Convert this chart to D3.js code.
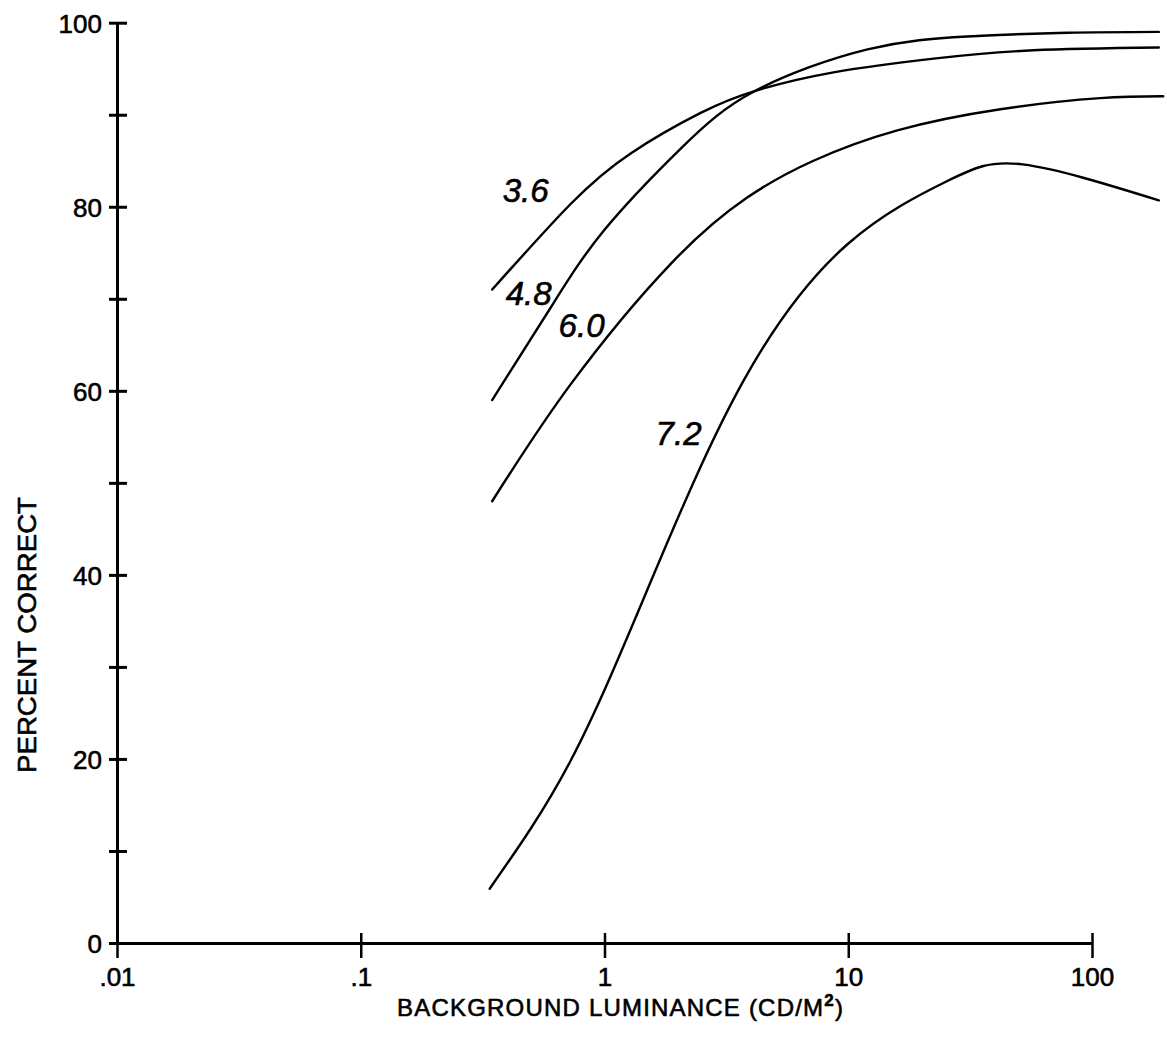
<!DOCTYPE html>
<html>
<head>
<meta charset="utf-8">
<script src="https://cdn.jsdelivr.net/npm/d3@7"></script>
<style>
  html, body { margin: 0; padding: 0; background: #fff; }
  svg { display: block; }
  text { font-family: "Liberation Sans", Arial, sans-serif; fill: #000; stroke: #000; stroke-width: 0.6px; }
</style>
</head>
<body>
<svg id="chart" width="1167" height="1039"></svg>
<script>
// Percent correct vs. background luminance, one curve per condition.
const seriesNames = ["3.6", "4.8", "6.0", "7.2"];

// [luminance cd/m², percent correct]
const curve36 = [[0.346,71.0],[0.726,80.3],[1.28,85.8],[2.48,90.2],[4.16,92.6],[8.7,94.6],[22.4,96.1],[57.5,97.0],[188,97.3]];
const curve48 = [[0.346,59.0],[0.600,69.0],[1.0,77.5],[2.05,86.3],[4.16,92.6],[12.0,97.1],[30.8,98.5],[79,98.9],[188,99.0]];
const curve60 = [[0.346,48.0],[0.726,60.7],[1.87,73.8],[3.85,81.0],[7.2,85.0],[15.9,88.3],[42.1,90.6],[108,91.8],[196,92.0]];
const curve72 = [[0.338,5.9],[0.726,19.8],[1.55,39.3],[3.72,61.1],[9.9,75.9],[25.5,82.8],[52,84.6],[188,80.7]];
const curves = [curve36, curve48, curve60, curve72];

const xTicks = [0.01, 0.1, 1, 10, 100];
const xTickLabels = [".01", ".1", "1", "10", "100"];
const yTicks = [0, 10, 20, 30, 40, 50, 60, 70, 80, 90, 100];
const yTickLabels = ["0", "", "20", "", "40", "", "60", "", "80", "", "100"];

const xTitle = "BACKGROUND LUMINANCE (CD/M";
const xTitleSup = "2";
const yTitle = "PERCENT CORRECT";

const svg = d3.select("#chart");

const x = d3.scaleLog().domain([0.01, 100]).range([117, 1092]);
const y = d3.scaleLinear().domain([0, 100]).range([943, 22.7]);

// y axis: ticks cross the axis line
const yAxis = d3.axisLeft(y)
  .tickValues(yTicks)
  .tickFormat((d, i) => yTickLabels[i])
  .tickSizeOuter(0)
  .tickPadding(0);
const gy = svg.append("g").attr("transform", `translate(${x(0.01)},0)`).call(yAxis);
gy.select(".domain").attr("stroke", "#000").attr("stroke-width", 3);
gy.selectAll(".tick line").attr("x1", -8).attr("x2", 10).attr("stroke", "#000").attr("stroke-width", 3);
gy.selectAll(".tick text")
  .attr("x", -15).attr("dy", "0.36em")
  .style("font-size", "26px").attr("font-family", null);

// x axis
const xAxis = d3.axisBottom(x)
  .tickValues(xTicks)
  .tickFormat((d, i) => xTickLabels[i])
  .tickSizeOuter(0)
  .tickPadding(0);
const gx = svg.append("g").attr("transform", `translate(0,${y(0)})`).call(xAxis);
gx.select(".domain").attr("stroke", "#000").attr("stroke-width", 3);
gx.selectAll(".tick line").attr("y1", -10).attr("y2", 15).attr("stroke", "#000").attr("stroke-width", 2.5);
gx.selectAll(".tick text")
  .attr("y", 43).attr("dy", 0)
  .style("font-size", "26px").attr("font-family", null);

// axis titles
const xt = svg.append("text")
  .attr("x", 397).attr("y", 1016)
  .style("font-size", "24px").style("letter-spacing", "1.2px");
xt.append("tspan").text(xTitle);
xt.append("tspan").attr("dy", -10).style("font-size", "17px").style("font-weight", "bold").text(xTitleSup);
xt.append("tspan").attr("dy", 10).text(")");

svg.append("text")
  .attr("transform", "translate(36,635) rotate(-90)")
  .attr("text-anchor", "middle")
  .attr("textLength", 276).attr("lengthAdjust", "spacingAndGlyphs")
  .style("font-size", "26px")
  .text(yTitle);

// curves
const line = d3.line()
  .x(d => x(d[0]))
  .y(d => y(d[1]))
  .curve(d3.curveNatural);

svg.append("g").selectAll("path")
  .data(curves)
  .join("path")
  .attr("d", line)
  .attr("fill", "none")
  .attr("stroke", "#000")
  .attr("stroke-width", 2.4)
  .attr("stroke-linecap", "round");

// curve labels, anchored in data units
const labelAnchors = [[0.382, 80.5], [0.393, 69.3], [0.648, 65.8], [1.62, 54.1]];
svg.append("g").selectAll("text")
  .data(seriesNames)
  .join("text")
  .attr("x", (d, i) => x(labelAnchors[i][0]))
  .attr("y", (d, i) => y(labelAnchors[i][1]))
  .attr("textLength", 46).attr("lengthAdjust", "spacingAndGlyphs")
  .style("font-size", "34px").style("font-style", "italic")
  .text(d => d);
</script>
</body>
</html>
